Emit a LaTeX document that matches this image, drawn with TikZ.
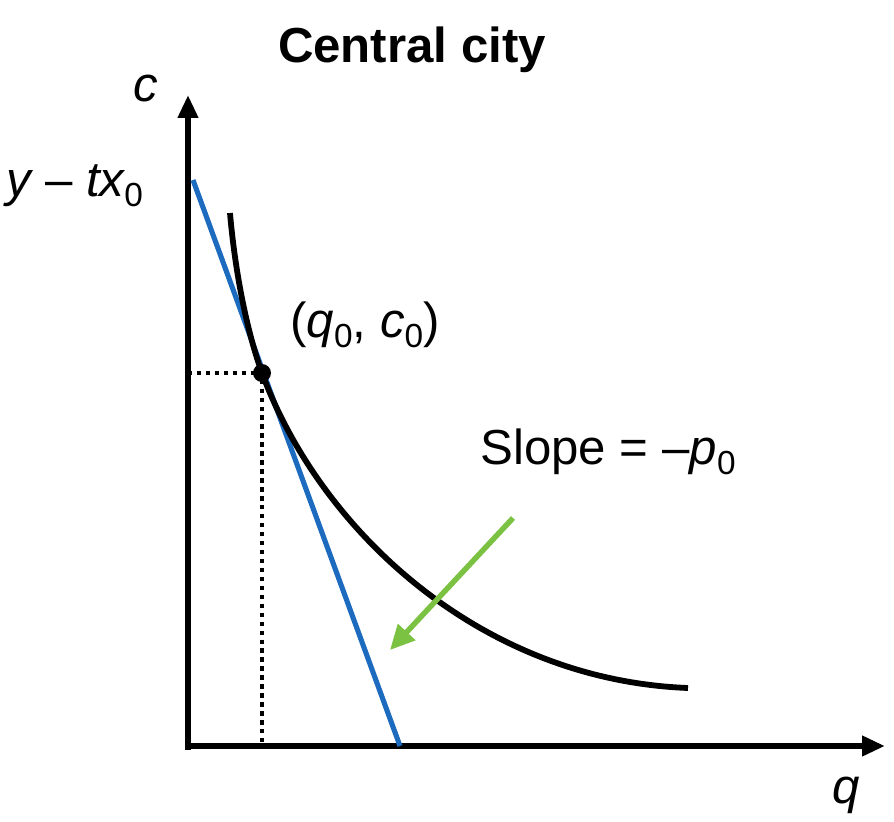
\documentclass[tikz,border=0pt]{standalone}
\usepackage{fontspec}
\setmainfont{Liberation Sans}
\usetikzlibrary{arrows.meta}
\definecolor{budgetblue}{HTML}{1D6BBF}
\definecolor{shiftgreen}{HTML}{7CC242}
\newcommand{\lowsub}[1]{\raisebox{-0.2em}{\fontsize{19}{20}\selectfont #1}}

\begin{document}
\begin{tikzpicture}[x=0.02cm,y=-0.02cm,>={Triangle[length=13pt,width=11pt]},font=\fontsize{28}{34}\selectfont]
\tikzset{axis/.style={->,line width=3.3pt,draw=black},budget/.style={line width=2.9pt,draw=budgetblue},indiff/.style={line width=3.3pt,draw=black},guide/.style={line width=2.5pt,dash pattern=on 2.5pt off 2.6pt},slopearrow/.style={-{Triangle[length=14pt,width=13pt]},line width=3.1pt,draw=shiftgreen,fill=shiftgreen},lbl/.style={inner sep=0pt}}
\useasboundingbox (0,0) rectangle (894,822);
% axes
\coordinate (O) at (188,746);
\coordinate (ytop) at (188,95);
\coordinate (xend) at (885,746);
\draw[axis] (188,750) -- (ytop);
\draw[axis] (185,746) -- (xend);
\node[lbl] (title) at (412,50) {\bfseries Central city};
\node[lbl] (clab) at (146,89) {\itshape c};
\node[lbl] (qlab) at (846,795) {\itshape q};
\node[lbl] (ylab) at (75,186) {\itshape y \upshape – \itshape tx\upshape\lowsub{0}};
% budget line and indifference curve
\coordinate (yint) at (193,180);
\coordinate (qint) at (400,746);
\coordinate (P) at (262,373);
\draw[budget] (yint) -- (qint);
\draw[indiff] (230,213) .. controls (234,260) and (244,323) .. (P) .. controls (320,530) and (480,680) .. (688,688);
\coordinate (Py) at (188,373);
\coordinate (Pq) at (262,746);
\draw[guide] (Py) -- (P) -- (Pq);
\fill (P) circle (9);
\node[lbl] (ptlab) at (365,325) {(\itshape q\upshape\lowsub{0}, \itshape c\upshape\lowsub{0})};
% slope label and arrow
\node[lbl] (slab) at (608,452) {Slope = –\itshape p\upshape\lowsub{0}};
\coordinate (gs) at (513,518);
\coordinate (ge) at (390,650);
\draw[slopearrow] (gs) -- (ge);
\end{tikzpicture}
\end{document}
